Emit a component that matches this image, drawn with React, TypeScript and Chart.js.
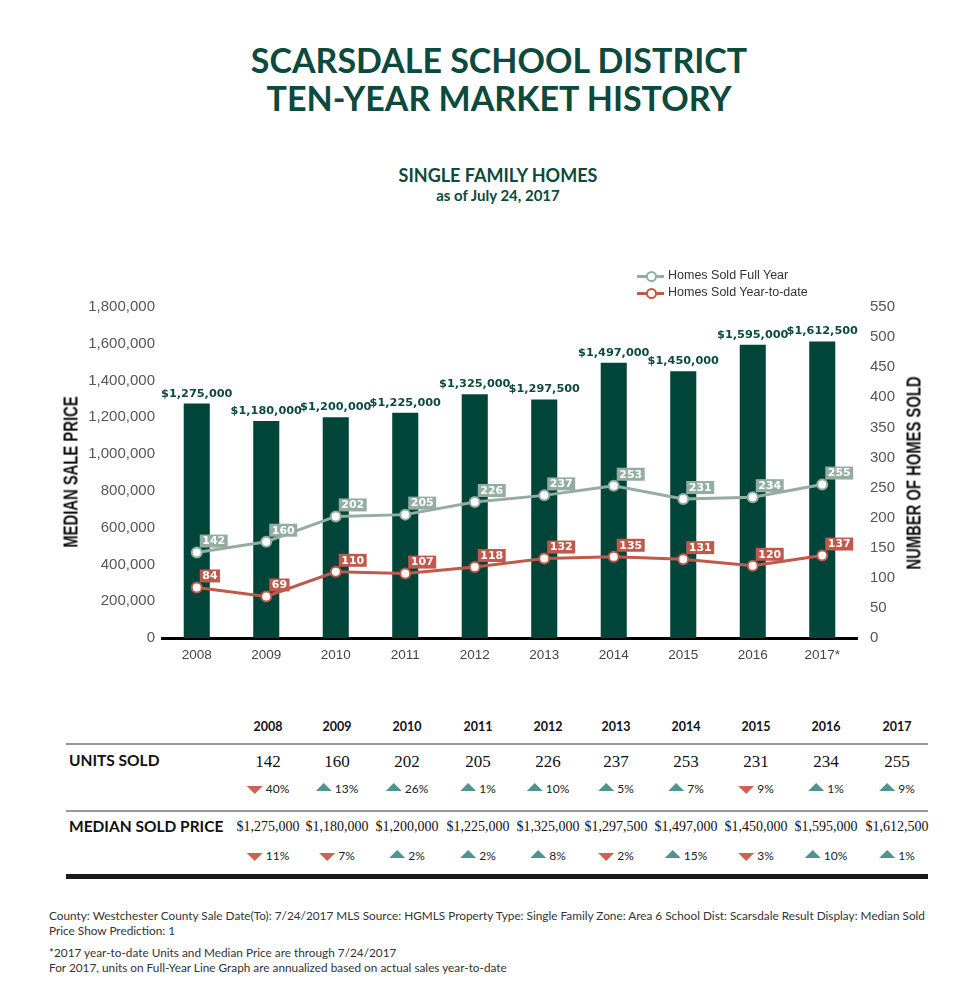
import React, { useEffect, useRef } from "react";
import { Chart, registerables } from "chart.js";

Chart.register(...registerables);

// ---------- DATA ----------
const yearLabels = ["2008", "2009", "2010", "2011", "2012", "2013", "2014", "2015", "2016", "2017*"];
const tableYears = ["2008", "2009", "2010", "2011", "2012", "2013", "2014", "2015", "2016", "2017"];
const medianPrice = [1275000, 1180000, 1200000, 1225000, 1325000, 1297500, 1497000, 1450000, 1595000, 1612500];
const homesFullYear = [142, 160, 202, 205, 226, 237, 253, 231, 234, 255];
const homesYTD = [84, 69, 110, 107, 118, 132, 135, 131, 120, 137];
const unitsSold = [142, 160, 202, 205, 226, 237, 253, 231, 234, 255];
const unitsChange = [-40, 13, 26, 1, 10, 5, 7, -9, 1, 9];
const priceChange = [-11, -7, 2, 2, 8, -2, 15, -3, 10, 1];
const priceAxisMax = 1800000;
const priceAxisStep = 200000;
const homesAxisMax = 550;
const homesAxisStep = 50;

// ---------- STYLE ----------
const GREEN = "#0b4a3d";
const BAR = "#00453a";
const SAGE = "#93ada3";
const RED = "#c0594c";
const TEAL_TRI = "#4f9490";
const RED_TRI = "#cc6352";
const colX = [268, 337, 407, 478, 548, 616, 686, 756, 826, 897];

const fmt = (v: number) => v.toLocaleString("en-US");

const labelPlugin = {
  id: "valueLabels",
  afterDatasetsDraw(chart: any) {
    const ctx = chart.ctx;
    ctx.save();
    chart.data.datasets.forEach((ds: any, i: number) => {
      const meta = chart.getDatasetMeta(i);
      meta.data.forEach((el: any, j: number) => {
        const v = ds.data[j];
        if (ds.type === "bar") {
          ctx.font = 'bold 11.3px "DejaVu Sans"';
          ctx.fillStyle = GREEN;
          ctx.textAlign = "center";
          ctx.textBaseline = "alphabetic";
          ctx.fillText("$" + fmt(v), el.x, el.y - 7);
        } else {
          const text = String(v);
          ctx.font = 'bold 11px "DejaVu Sans"';
          const w = ctx.measureText(text).width + 5;
          const h = 13;
          const bx = el.x + 3;
          const by = el.y - 5 - h;
          ctx.fillStyle = ds.borderColor;
          ctx.fillRect(bx, by, w, h);
          ctx.fillStyle = "#ffffff";
          ctx.textAlign = "left";
          ctx.textBaseline = "middle";
          ctx.fillText(text, bx + 2.5, by + h / 2 + 0.5);
        }
      });
    });
    ctx.restore();
  },
};

function ChartCanvas() {
  const ref = useRef<HTMLCanvasElement | null>(null);
  useEffect(() => {
    if (!ref.current) return;
    const tickFont = { family: '"Liberation Sans", Arial, sans-serif', size: 15 };
    const chart = new Chart(ref.current, {
      type: "bar",
      data: {
        labels: yearLabels,
        datasets: [
          {
            type: "line",
            label: "Homes Sold Full Year",
            data: homesFullYear,
            yAxisID: "y1",
            borderColor: SAGE,
            backgroundColor: "#ffffff",
            borderWidth: 3,
            pointRadius: 5,
            pointBorderWidth: 2,
            pointBackgroundColor: "#ffffff",
            pointBorderColor: SAGE,
            tension: 0,
            order: 0,
          } as any,
          {
            type: "line",
            label: "Homes Sold Year-to-date",
            data: homesYTD,
            yAxisID: "y1",
            borderColor: RED,
            backgroundColor: "#ffffff",
            borderWidth: 3,
            pointRadius: 5,
            pointBorderWidth: 2,
            pointBackgroundColor: "#ffffff",
            pointBorderColor: RED,
            tension: 0,
            order: 0,
          } as any,
          {
            type: "bar",
            label: "Median Sale Price",
            data: medianPrice,
            yAxisID: "y",
            backgroundColor: BAR,
            barPercentage: 0.375,
            categoryPercentage: 1,
            order: 1,
          } as any,
        ],
      },
      options: {
        responsive: false,
        animation: false,
        layout: { padding: { top: 57, left: 0, right: 0, bottom: 0 } },
        plugins: { legend: { display: false }, tooltip: { enabled: false } },
        scales: {
          x: {
            grid: { display: false, drawTicks: false },
            border: { display: true, color: "#000000", width: 3 },
            ticks: { color: "#444444", font: { family: '"Liberation Sans", Arial, sans-serif', size: 13.5 }, padding: 9 },
            afterFit: (s: any) => {
              s.height = 42;
            },
          },
          y: {
            position: "left",
            min: 0,
            max: priceAxisMax,
            grid: { display: false, drawTicks: false },
            border: { display: false },
            ticks: { stepSize: priceAxisStep, color: "#555555", font: tickFont, padding: 7, callback: (v: any) => fmt(Number(v)) },
            afterFit: (s: any) => {
              s.width = 162;
            },
          },
          y1: {
            position: "right",
            min: 0,
            max: homesAxisMax,
            grid: { display: false, drawTicks: false },
            border: { display: false },
            ticks: { stepSize: homesAxisStep, color: "#555555", font: tickFont, padding: 13 },
            afterFit: (s: any) => {
              s.width = 108;
            },
          },
        },
      } as any,
      plugins: [labelPlugin],
    });
    return () => chart.destroy();
  }, []);
  return (
    <canvas
      ref={ref}
      width={965}
      height={430}
      style={{ position: "absolute", left: 0, top: 250, width: 965, height: 430 }}
    />
  );
}

const abs = (extra: React.CSSProperties): React.CSSProperties => ({ position: "absolute", whiteSpace: "nowrap", ...extra });

function Centered({ x, y, h, children, style }: { x: number; y: number; h: number; children: React.ReactNode; style?: React.CSSProperties }) {
  return (
    <div style={abs({ left: x, top: y - h / 2, height: h, lineHeight: h + "px", transform: "translateX(-50%)", ...style })}>{children}</div>
  );
}

function Change({ x, y, v }: { x: number; y: number; v: number }) {
  const up = v >= 0;
  const tri: React.CSSProperties = up
    ? { width: 0, height: 0, borderLeft: "8.5px solid transparent", borderRight: "8.5px solid transparent", borderBottom: `8.5px solid ${TEAL_TRI}` }
    : { width: 0, height: 0, borderLeft: "8.5px solid transparent", borderRight: "8.5px solid transparent", borderTop: `8.5px solid ${RED_TRI}` };
  return (
    <div style={abs({ left: x, top: y - 8, height: 16, transform: "translateX(-50%)", display: "flex", alignItems: "center", gap: 3, font: '12px Lato, sans-serif', color: "#222" })}>
      <div style={{ ...tri, marginTop: up ? -2 : 3 }} />
      <span>{Math.abs(v)}%</span>
    </div>
  );
}

function LegendItem({ y, color, text }: { y: number; color: string; text: string }) {
  return (
    <div style={abs({ left: 637, top: y - 8, height: 16 })}>
      <div style={{ position: "absolute", left: 0, top: 7, width: 27, height: 3, background: color }} />
      <div style={{ position: "absolute", left: 9, top: 3, width: 7, height: 7, borderRadius: "50%", background: "#fff", border: `2px solid ${color}` }} />
      <div style={{ position: "absolute", left: 31, top: 0, lineHeight: "16px", font: '12.5px "Liberation Sans", Arial, sans-serif', color: "#333" }}>{text}</div>
    </div>
  );
}

export default function App() {
  const bodyFont = "Lato, sans-serif";
  return (
    <div style={{ position: "absolute", left: 0, top: 0, width: 965, height: 1003, overflow: "hidden", background: "#fff", fontFamily: bodyFont }}>
      <Centered x={499} y={59} h={40} style={{ font: `bold 34px ${bodyFont}`, color: GREEN }}>SCARSDALE SCHOOL DISTRICT</Centered>
      <Centered x={499} y={97} h={40} style={{ font: `bold 34px ${bodyFont}`, color: GREEN }}>TEN-YEAR MARKET HISTORY</Centered>
      <Centered x={498} y={175} h={22} style={{ font: `bold 18px ${bodyFont}`, color: GREEN }}>SINGLE FAMILY HOMES</Centered>
      <Centered x={498} y={196} h={20} style={{ font: `bold 15px ${bodyFont}`, color: GREEN }}>as of July 24, 2017</Centered>

      <ChartCanvas />

      <LegendItem y={276} color={SAGE} text="Homes Sold Full Year" />
      <LegendItem y={293} color={RED} text="Homes Sold Year-to-date" />

      <div style={abs({ left: 71, top: 472, lineHeight: "20px", font: 'bold 20px "Liberation Sans", Arial, sans-serif', color: "#111", transform: "translate(-50%,-50%) rotate(-90deg) scaleX(0.74)" })}>MEDIAN SALE PRICE</div>
      <div style={abs({ left: 914, top: 473, lineHeight: "20px", font: 'bold 20px "Liberation Sans", Arial, sans-serif', color: "#111", transform: "translate(-50%,-50%) rotate(-90deg) scaleX(0.74)" })}>NUMBER OF HOMES SOLD</div>

      {/* table */}
      {tableYears.map((y, i) => (
        <Centered key={"y" + i} x={colX[i]} y={727} h={16} style={{ font: `bold 12.5px ${bodyFont}`, color: "#111" }}>{y}</Centered>
      ))}
      <div style={abs({ left: 66, top: 743, width: 862, height: 2, background: "#999" })} />
      <div style={abs({ left: 69, top: 751, lineHeight: "20px", font: `bold 15.5px ${bodyFont}`, color: "#111" })}>UNITS SOLD</div>
      {unitsSold.map((v, i) => (
        <Centered key={"u" + i} x={colX[i]} y={762} h={20} style={{ font: '17px "Liberation Serif", serif', color: "#111" }}>{v}</Centered>
      ))}
      {unitsChange.map((v, i) => (
        <Change key={"uc" + i} x={colX[i]} y={788} v={v} />
      ))}
      <div style={abs({ left: 66, top: 810, width: 862, height: 2, background: "#999" })} />
      <div style={abs({ left: 69, top: 817, lineHeight: "20px", font: `bold 15.5px ${bodyFont}`, color: "#111" })}>MEDIAN SOLD PRICE</div>
      {medianPrice.map((v, i) => (
        <Centered key={"p" + i} x={colX[i]} y={828} h={18} style={{ font: '14px "Liberation Serif", serif', color: "#111" }}>{"$" + fmt(v)}</Centered>
      ))}
      {priceChange.map((v, i) => (
        <Change key={"pc" + i} x={colX[i]} y={855} v={v} />
      ))}
      <div style={abs({ left: 66, top: 874, width: 862, height: 5, background: "#1a1a1a" })} />

      {/* footnotes */}
      <div style={abs({ left: 49, top: 908, lineHeight: "16px", font: `11.8px ${bodyFont}`, color: "#333" })}>
        County: Westchester County Sale Date(To): 7/24/2017 MLS Source: HGMLS Property Type: Single Family Zone: Area 6 School Dist: Scarsdale Result Display: Median Sold
        <br />
        Price Show Prediction: 1
      </div>
      <div style={abs({ left: 49, top: 945, lineHeight: "17px", font: `11.8px ${bodyFont}`, color: "#333" })}>
        *2017 year-to-date Units and Median Price are through 7/24/2017
        <br />
        For 2017, units on Full-Year Line Graph are annualized based on actual sales year-to-date
      </div>
    </div>
  );
}
